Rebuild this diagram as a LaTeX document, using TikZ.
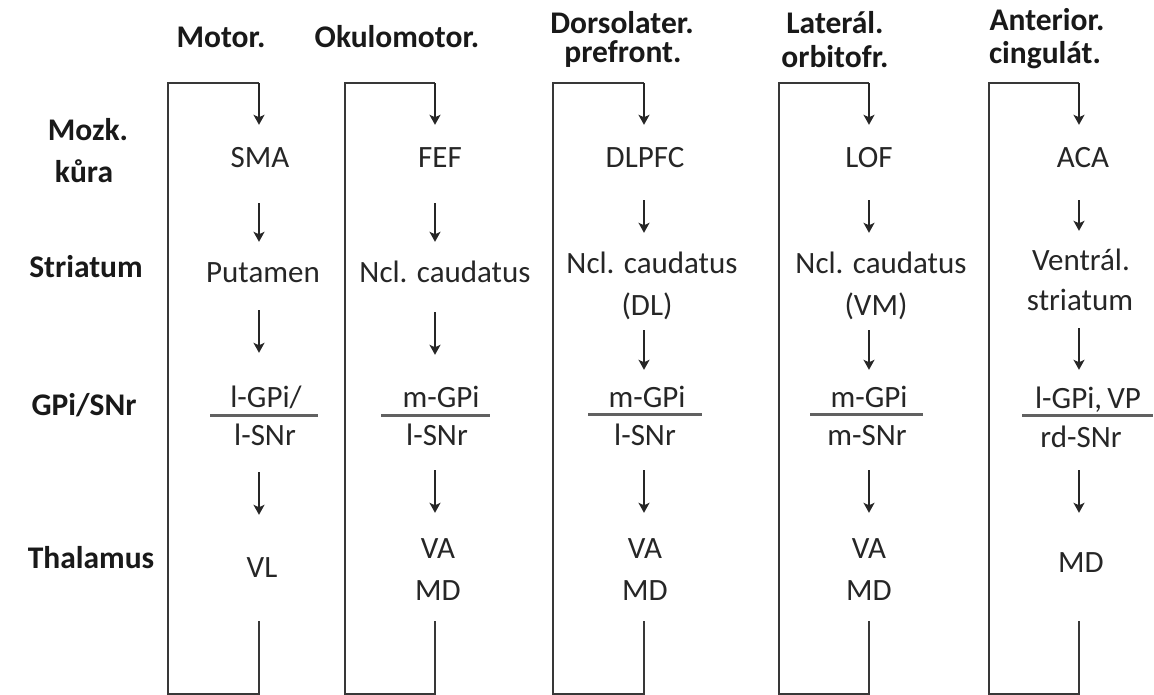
\documentclass[tikz,border=0pt]{standalone}
\usepackage{fontspec}
\setmainfont{Carlito}
\usetikzlibrary{arrows.meta,calc}
\begin{document}
\begin{tikzpicture}[x=1pt,y=-1pt,
  hdr/.style={font=\fontsize{31.5}{36}\selectfont\bfseries, text=black!90, inner sep=0pt, anchor=base},
  row/.style={font=\fontsize{31.5}{36}\selectfont\bfseries, text=black!90, inner sep=0pt, anchor=base},
  txt/.style={font=\fontsize{31}{36}\selectfont, text=black!85, inner sep=0pt, text height=19pt, text depth=0pt, anchor=base},
  loopline/.style={draw=black!78, line width=2.2pt},
  arr/.style={draw=black!85, line width=1.6pt, -{Stealth[length=10pt,width=11pt,inset=2.5pt]}},
  fracline/.style={draw=black!62, line width=3pt}]
\useasboundingbox[fill=white] (0,0) rectangle (1154,694);

% row labels
\node[row] (lmozk) at (88,140) {Mozk.};
\node[row] (lkura) at (84,182) {kůra};
\node[row] (lstri) at (86,277) {Striatum};
\node[row] (lgpi) at (84,415) {GPi/SNr};
\node[row] (lthal) at (91,568) {Thalamus};

% column axes
\coordinate (ax1) at (259,0);
\coordinate (ax2) at (435,0);
\coordinate (ax3) at (644,0);
\coordinate (ax4) at (869,0);
\coordinate (ax5) at (1079,0);
\coordinate (t1) at (168,83);  \coordinate (b1) at (168,694);
\coordinate (t2) at (345,83);  \coordinate (b2) at (345,694);
\coordinate (t3) at (553,83);  \coordinate (b3) at (553,694);
\coordinate (t4) at (779,83);  \coordinate (b4) at (779,694);
\coordinate (t5) at (989,83);  \coordinate (b5) at (989,694);

% headers
\node[hdr] (h1) at (221,47) {Motor.};
\node[hdr] (h2) at (397,47) {Okulomotor.};
\node[hdr] (h3a) at (622,33) {Dorsolater.};
\node[hdr] (h3b) at (623,62) {prefront.};
\node[hdr] (h4a) at (835,33) {Laterál.};
\node[hdr] (h4b) at (835,67) {orbitofr.};
\node[hdr] (h5a) at (1047,30) {Anterior.};
\node[hdr] (h5b) at (1045,63) {cingulát.};

% column 1
\node[txt] (c1) at (260,167) {SMA};
\node[txt] (s1) at (263,282) {Putamen};
\node[txt] (g1) at (266,407) {l-GPi/};
\node[txt] (n1) at (265,445) {l-SNr};
\node[txt] (th1) at (262,577) {VL};
\draw[fracline] (210,415) -- (318,415);

% column 2
\node[txt] (c2) at (440,167) {FEF};
\node[txt] (s2) at (445,282) {Ncl. caudatus};
\node[txt] (g2) at (441,407) {m-GPi};
\node[txt] (n2) at (437,445) {l-SNr};
\node[txt] (th2a) at (438,558) {VA};
\node[txt] (th2) at (438,600) {MD};
\draw[fracline] (381,415) -- (490,415);

% column 3
\node[txt] (c3) at (645,167) {DLPFC};
\node[txt] (s3a) at (652,273) {Ncl. caudatus};
\node[txt] (s3) at (647,315) {(DL)};
\node[txt] (g3) at (647,407) {m-GPi};
\node[txt] (n3) at (645,445) {l-SNr};
\node[txt] (th3a) at (645,558) {VA};
\node[txt] (th3) at (645,600) {MD};
\draw[fracline] (588,414) -- (702,414);

% column 4
\node[txt] (c4) at (869,167) {LOF};
\node[txt] (s4a) at (881,273) {Ncl. caudatus};
\node[txt] (s4) at (876,315) {(VM)};
\node[txt] (g4) at (869,407) {m-GPi};
\node[txt] (n4) at (867,445) {m-SNr};
\node[txt] (th4a) at (869,558) {VA};
\node[txt] (th4) at (869,600) {MD};
\draw[fracline] (810,414) -- (923,414);

% column 5
\node[txt] (c5) at (1083,167) {ACA};
\node[txt] (s5a) at (1081,270) {Ventrál.};
\node[txt] (s5) at (1080,310) {striatum};
\node[txt] (g5) at (1088,408) {l-GPi,\,VP};
\node[txt] (n5) at (1081,447) {rd-SNr};
\node[txt] (th5) at (1081,572) {MD};
\draw[fracline] (1022,415) -- (1153,415);

% loops
\foreach \t/\b/\a/\c/\th/\s in {t1/b1/ax1/c1/th1/44, t2/b2/ax2/c2/th2/21, t3/b3/ax3/c3/th3/21, t4/b4/ax4/c4/th4/21, t5/b5/ax5/c5/th5/49}{
  \draw[loopline] ($(\th.south -| \a)+(0,\s)$) -- (\b -| \a) -- (\b) -- (\t) -- (\t -| \a);
  \draw[arr, line width=1.8pt, shorten >=23pt] (\t -| \a) -- (\c.north -| \a);
}

% arrows
\draw[arr, shorten <=36pt, shorten >=21pt] (c1.south -| ax1) -- (s1.north -| ax1);
\draw[arr, shorten <=28pt, shorten >=35pt] (s1.south -| ax1) -- (g1.north -| ax1);
\draw[arr, shorten <=27pt, shorten >=43pt] (n1.south -| ax1) -- (th1.north -| ax1);

\draw[arr, shorten <=36pt, shorten >=21pt] (c2.south -| ax2) -- (s2.north -| ax2);
\draw[arr, shorten <=30pt, shorten >=33pt] (s2.south -| ax2) -- (g2.north -| ax2);
\draw[arr, shorten <=25pt, shorten >=26pt] (n2.south -| ax2) -- (th2a.north -| ax2);

\draw[arr, shorten <=33pt, shorten >=21pt] (c3.south -| ax3) -- (s3a.north -| ax3);
\draw[arr, shorten <=15pt, shorten >=18pt] (s3.south -| ax3) -- (g3.north -| ax3);
\draw[arr, shorten <=25pt, shorten >=26pt] (n3.south -| ax3) -- (th3a.north -| ax3);

\draw[arr, shorten <=33pt, shorten >=21pt] (c4.south -| ax4) -- (s4a.north -| ax4);
\draw[arr, shorten <=15pt, shorten >=18pt] (s4.south -| ax4) -- (g4.north -| ax4);
\draw[arr, shorten <=25pt, shorten >=26pt] (n4.south -| ax4) -- (th4a.north -| ax4);

\draw[arr, shorten <=33pt, shorten >=20pt] (c5.south -| ax5) -- (s5a.north -| ax5);
\draw[arr, shorten <=18pt, shorten >=19pt] (s5.south -| ax5) -- (g5.north -| ax5);
\draw[arr, shorten <=23pt, shorten >=40pt] (n5.south -| ax5) -- (th5.north -| ax5);
\end{tikzpicture}
\end{document}
